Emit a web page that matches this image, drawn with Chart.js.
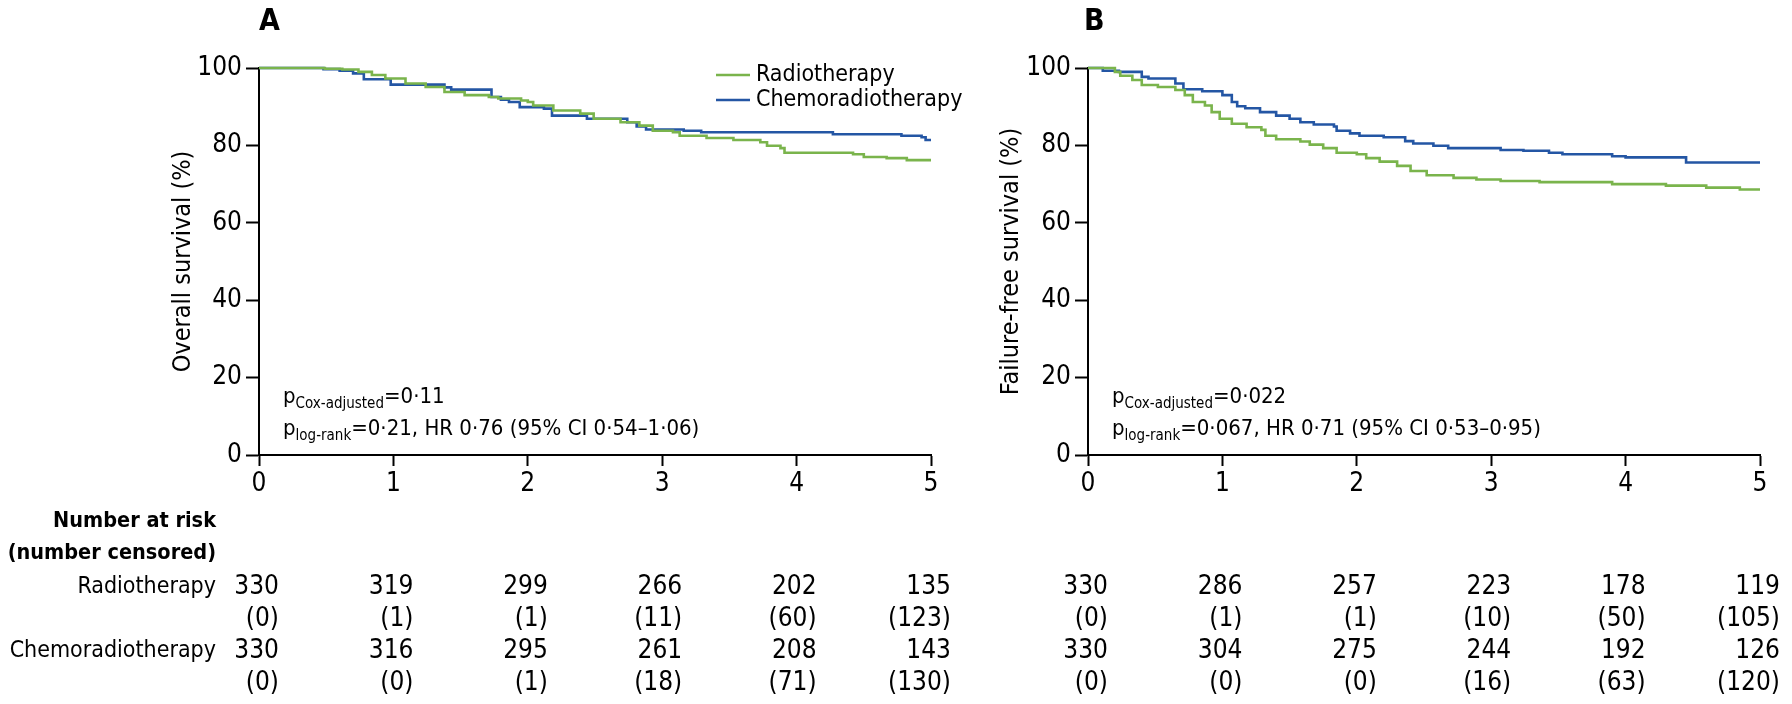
<!DOCTYPE html>
<html>
<head>
<meta charset="utf-8">
<script src="https://cdn.jsdelivr.net/npm/chart.js@4.4.1/dist/chart.umd.min.js"></script>
<style>
  html, body { margin: 0; padding: 0; background: #fff; }
  #wrap { position: relative; width: 1792px; height: 704px; }
  canvas { position: absolute; top: 0; }
</style>
</head>
<body>
<div id="wrap">
  <canvas id="chartA" width="1000" height="704" style="left:0"></canvas>
  <canvas id="chartB" width="832" height="704" style="left:960px"></canvas>
</div>
<script>
const yearTicks = [0, 1, 2, 3, 4, 5];
const pctTicks = [0, 20, 40, 60, 80, 100];
const seriesNames = ['Radiotherapy', 'Chemoradiotherapy'];

// A: overall survival, step points (years, %)
const osTimeRT = [0, 0.49, 0.62, 0.74, 0.84, 0.94, 1.09, 1.24, 1.38, 1.53, 1.71, 1.78, 1.95, 2.0, 2.04, 2.19, 2.39, 2.49, 2.69, 2.83, 2.93, 3.08, 3.13, 3.33, 3.53, 3.73, 3.78, 3.88, 3.91, 4.42, 4.5, 4.67, 4.82, 5.0];
const osRT     = [100, 99.8, 99.6, 99.0, 98.2, 97.3, 96.0, 95.1, 93.8, 93.0, 92.5, 92.1, 91.6, 91.2, 90.3, 89.0, 88.2, 86.9, 86.0, 85.1, 83.8, 83.4, 82.5, 81.9, 81.4, 80.8, 79.9, 79.3, 78.1, 77.7, 77.0, 76.7, 76.2, 76.2];
const osTimeCRT = [0, 0.48, 0.6, 0.7, 0.78, 0.98, 1.38, 1.43, 1.73, 1.8, 1.86, 1.94, 2.12, 2.18, 2.44, 2.74, 2.81, 2.88, 3.16, 3.29, 4.27, 4.78, 4.93, 4.96, 5.0];
const osCRT     = [100, 99.7, 99.3, 98.6, 97.1, 95.7, 95.0, 94.4, 92.5, 91.8, 91.2, 89.9, 89.5, 87.7, 86.9, 86.0, 84.9, 84.1, 83.8, 83.4, 82.9, 82.5, 82.1, 81.4, 81.4];

// B: failure-free survival
const ffsTimeRT = [0, 0.2, 0.24, 0.33, 0.4, 0.52, 0.65, 0.72, 0.78, 0.87, 0.92, 0.98, 1.07, 1.18, 1.29, 1.32, 1.4, 1.58, 1.65, 1.75, 1.85, 2.0, 2.07, 2.17, 2.3, 2.4, 2.52, 2.72, 2.89, 3.07, 3.36, 3.9, 4.3, 4.6, 4.85, 5.0];
const ffsRT     = [100, 99.0, 98.0, 96.9, 95.6, 95.1, 94.3, 93.0, 91.2, 90.3, 88.6, 86.9, 85.6, 84.7, 84.0, 82.5, 81.6, 81.0, 80.2, 79.3, 78.1, 77.7, 76.7, 75.8, 74.7, 73.4, 72.3, 71.6, 71.2, 70.8, 70.5, 70.0, 69.6, 69.1, 68.6, 68.6];
const ffsTimeCRT = [0, 0.11, 0.23, 0.4, 0.45, 0.65, 0.71, 0.85, 1.0, 1.07, 1.11, 1.17, 1.28, 1.4, 1.5, 1.58, 1.68, 1.83, 1.85, 1.95, 2.02, 2.2, 2.36, 2.42, 2.57, 2.68, 3.07, 3.24, 3.43, 3.53, 3.9, 4.0, 4.45, 5.0];
const ffsCRT     = [100, 99.3, 99.0, 97.7, 97.3, 96.0, 94.5, 94.0, 93.0, 91.2, 90.1, 89.6, 88.6, 87.7, 86.9, 86.0, 85.4, 84.9, 83.8, 83.1, 82.5, 82.1, 81.1, 80.5, 79.9, 79.3, 78.8, 78.6, 78.1, 77.7, 77.2, 76.9, 75.6, 75.6];

// numbers at risk (number censored)
const osRiskRT = [330, 319, 299, 266, 202, 135];
const osCensRT = [0, 1, 1, 11, 60, 123];
const osRiskCRT = [330, 316, 295, 261, 208, 143];
const osCensCRT = [0, 0, 1, 18, 71, 130];
const ffsRiskRT = [330, 286, 257, 223, 178, 119];
const ffsCensRT = [0, 1, 1, 10, 50, 105];
const ffsRiskCRT = [330, 304, 275, 244, 192, 126];
const ffsCensCRT = [0, 0, 0, 16, 63, 120];

const GREEN = '#7ab44c';
const BLUE = '#2456a4';
const FONT = "'Liberation Sans Narrow', 'Arial Narrow', 'DejaVu Sans Condensed', sans-serif";
const FS = 26;

Chart.defaults.font.family = FONT;
Chart.defaults.font.size = FS;
Chart.defaults.color = '#000';

const toPoints = (xs, ys) => xs.map((x, i) => ({ x: x, y: ys[i] }));

// text with subscript pieces: [text, isSub]
function drawRich(ctx, x, y, parts) {
  ctx.textAlign = 'left';
  ctx.textBaseline = 'alphabetic';
  parts.forEach(([txt, sub]) => {
    ctx.font = (sub ? 15 : 22) + 'px ' + FONT;
    ctx.fillText(txt, x, sub ? y + 5 : y);
    x += ctx.measureText(txt).width;
  });
}

function panelPlugin(cfg) {
  return {
    id: 'panelText' + cfg.letter,
    afterDraw(chart) {
      const ctx = chart.ctx;
      const area = chart.chartArea;
      const xs = chart.scales.x;
      ctx.save();
      ctx.fillStyle = '#000';

      // panel letter
      ctx.font = 'bold 30px ' + FONT;
      ctx.textAlign = 'left';
      ctx.textBaseline = 'middle';
      ctx.fillText(cfg.letter, area.left + cfg.letterDx, 22);

      // y title
      ctx.save();
      ctx.translate(cfg.titleX, (area.top + area.bottom) / 2);
      ctx.rotate(-Math.PI / 2);
      ctx.font = '25px ' + FONT;
      ctx.textAlign = 'center';
      ctx.textBaseline = 'middle';
      ctx.fillText(cfg.yTitle, 0, 0);
      ctx.restore();

      // legend
      if (cfg.legend) {
        chart.data.datasets.forEach((ds, i) => {
          const ly = 75 + i * 25;
          ctx.strokeStyle = ds.borderColor;
          ctx.lineWidth = 2.6;
          ctx.beginPath();
          ctx.moveTo(716, ly);
          ctx.lineTo(750, ly);
          ctx.stroke();
          ctx.font = '23px ' + FONT;
          ctx.textAlign = 'left';
          ctx.textBaseline = 'middle';
          ctx.fillText(ds.label, 756, ly);
        });
      }

      // statistics
      drawRich(ctx, area.left + 24, 403, cfg.stat1);
      drawRich(ctx, area.left + 24, 435, cfg.stat2);

      // numbers at risk
      ctx.font = FS + 'px ' + FONT;
      ctx.textAlign = 'right';
      ctx.textBaseline = 'middle';
      const rowsY = [587, 619, 651, 683];
      cfg.rows.forEach((row, r) => {
        yearTicks.forEach((t, i) => {
          const txt = r % 2 ? '(' + row[i] + ')' : String(row[i]);
          ctx.fillText(txt, xs.getPixelForValue(t) + 20, rowsY[r]);
        });
      });
      if (cfg.rowLabels) {
        ctx.font = 'bold 21.5px ' + FONT;
        ctx.fillText('Number at risk', 216, 521);
        ctx.fillText('(number censored)', 216, 553);
        ctx.font = '23px ' + FONT;
        ctx.fillText(seriesNames[0], 216, rowsY[0]);
        ctx.fillText(seriesNames[1], 216, rowsY[2]);
      }
      ctx.restore();
    }
  };
}

function makeChart(id, yAxisWidth, padRight, rt, crt, cfg) {
  const ctx = document.getElementById(id).getContext('2d');
  return new Chart(ctx, {
    type: 'line',
    data: {
      datasets: [
        { label: seriesNames[0], data: rt, borderColor: GREEN, borderWidth: 2.6, stepped: 'before', pointRadius: 0, fill: false, clip: 6 },
        { label: seriesNames[1], data: crt, borderColor: BLUE, borderWidth: 2.6, stepped: 'before', pointRadius: 0, fill: false, clip: 6 }
      ]
    },
    options: {
      responsive: false,
      devicePixelRatio: 1,
      animation: false,
      parsing: false,
      layout: { padding: { left: 0, top: 68, right: padRight, bottom: 209 } },
      plugins: { legend: { display: false }, tooltip: { enabled: false } },
      scales: {
        x: {
          type: 'linear', min: 0, max: 5,
          afterBuildTicks: s => { s.ticks = yearTicks.map(v => ({ value: v })); },
          afterFit: s => { s.height = 40; },
          grid: { drawOnChartArea: false, drawTicks: true, tickLength: 11, tickWidth: 2, tickColor: '#000' },
          border: { display: true, color: '#000', width: 2 },
          ticks: { padding: 3, color: '#000', font: { size: FS } }
        },
        y: {
          type: 'linear', min: 0, max: 100,
          afterBuildTicks: s => { s.ticks = pctTicks.map(v => ({ value: v })); },
          afterFit: s => { s.width = yAxisWidth; },
          grid: { drawOnChartArea: false, drawTicks: true, tickLength: 13, tickWidth: 2, tickColor: '#000' },
          border: { display: true, color: '#000', width: 2 },
          ticks: { padding: 4, color: '#000', font: { size: FS } }
        }
      }
    },
    plugins: [panelPlugin(cfg)]
  });
}

try {
  makeChart('chartA', 259, 69, toPoints(osTimeRT, osRT), toPoints(osTimeCRT, osCRT), {
    letter: 'A',
    letterDx: 0,
    titleX: 183,
    yTitle: 'Overall survival (%)',
    legend: true,
    rowLabels: true,
    stat1: [['p', false], ['Cox-adjusted', true], ['=0·11', false]],
    stat2: [['p', false], ['log-rank', true], ['=0·21, HR 0·76 (95% CI 0·54–1·06)', false]],
    rows: [osRiskRT, osCensRT, osRiskCRT, osCensCRT]
  });
  makeChart('chartB', 128, 32, toPoints(ffsTimeRT, ffsRT), toPoints(ffsTimeCRT, ffsCRT), {
    letter: 'B',
    letterDx: -4,
    titleX: 51,
    yTitle: 'Failure-free survival (%)',
    legend: false,
    rowLabels: false,
    stat1: [['p', false], ['Cox-adjusted', true], ['=0·022', false]],
    stat2: [['p', false], ['log-rank', true], ['=0·067, HR 0·71 (95% CI 0·53–0·95)', false]],
    rows: [ffsRiskRT, ffsCensRT, ffsRiskCRT, ffsCensCRT]
  });
} catch (error) {
  console.error('Chart error:', error);
}
</script>
</body>
</html>
